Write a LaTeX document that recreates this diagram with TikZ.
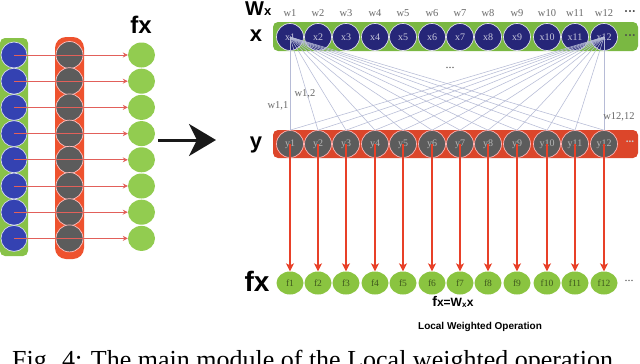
\documentclass[tikz,border=0pt]{standalone}
\usepackage{fontspec}
\setmainfont{Liberation Serif}
\setsansfont{Liberation Sans}
\usetikzlibrary{arrows.meta,shapes.geometric}
\definecolor{barG}{RGB}{122,184,66}
\definecolor{barGL}{RGB}{136,194,72}
\definecolor{cG}{RGB}{138,196,64}
\definecolor{cGL}{RGB}{146,204,80}
\definecolor{barR}{RGB}{220,70,42}
\definecolor{barRL}{RGB}{238,82,46}
\definecolor{cBlueL}{RGB}{52,66,178}
\definecolor{cBlue}{RGB}{38,38,120}
\definecolor{cGray}{RGB}{92,92,92}
\definecolor{lnRed}{RGB}{232,64,40}
\definecolor{lnRedL}{RGB}{226,96,90}
\definecolor{lnGray}{RGB}{182,187,214}
\definecolor{txtG}{RGB}{105,105,105}
\begin{document}
\begin{tikzpicture}[x=1pt,y=-1pt,
  bluedotL/.style={circle,inner sep=0pt,minimum size=26pt,fill=cBlueL,draw=white!80!cBlueL,line width=0.7pt},
  graydotL/.style={circle,inner sep=0pt,minimum size=27pt,fill=cGray,draw=white!75!red,line width=0.7pt},
  greendotL/.style={ellipse,inner sep=0pt,minimum width=27pt,minimum height=25pt,fill=cGL},
  xdot/.style={circle,inner sep=0pt,minimum size=27pt,fill=cBlue,draw=white!85!cBlue,line width=0.7pt,
    text=white!75!cBlue,font=\fontsize{10}{10}\selectfont},
  ydot/.style={circle,inner sep=0pt,minimum size=27pt,fill=cGray,draw=white!70!red,line width=0.7pt,
    text=white!55!cGray,font=\fontsize{10}{10}\selectfont},
  fdot/.style={ellipse,inner sep=0pt,minimum width=27pt,minimum height=23pt,fill=cG,
    text=black!55!cG,font=\fontsize{9.5}{9.5}\selectfont},
  wlab/.style={text=txtG,font=\fontsize{10.5}{10.5}\selectfont,inner sep=0pt},
  biglab/.style={font=\sffamily\bfseries,inner sep=0pt},
  fan/.style={draw=lnGray,line width=0.55pt},
  redarrL/.style={draw=lnRedL,line width=0.8pt,-{Stealth[length=5pt,width=5pt,fill=lnRed]}},
  redarr/.style={draw=lnRed,line width=1.1pt,-{Stealth[length=8pt,width=8pt,inset=2pt]}},
  bigarr/.style={draw=black!90,line width=3pt,-{Stealth[length=27pt,width=32pt,inset=8pt]}}
]
\useasboundingbox (0,0) rectangle (640,364);
\clip (0,0) rectangle (640,364);
\fill[white] (0,0) rectangle (640,364);

% ---------- left panel ----------
\fill[barGL,rounded corners=5pt] (0,38) rectangle (28,256);
\fill[barRL,rounded corners=11pt] (55,37) rectangle (84,259);
\foreach \i in {1,...,8}{
  \pgfmathsetmacro\yy{55+26.2*(\i-1)}
  \node[bluedotL] (b\i) at (14,\yy) {};
  \node[graydotL] (g\i) at (69.5,\yy) {};
  \node[greendotL] (h\i) at (141.5,\yy) {};
}
\foreach \i in {1,...,8}{
  \draw[redarrL] (b\i.center) -- (h\i.west);
}
\node[biglab,font=\sffamily\bfseries\fontsize{24}{24}\selectfont] (fxL) at (141,25) {fx};

\coordinate (aS) at (158,140);
\coordinate (aE) at (216,140);
\draw[bigarr] (aS) -- (aE);

% ---------- right panel ----------
\node[biglab,anchor=base west] (Wx) at (245,16) {\fontsize{20}{20}\selectfont W\fontsize{13}{13}\selectfont x};
\node[biglab,font=\sffamily\bfseries\fontsize{22}{22}\selectfont] (xlab) at (256,36) {x};
\node[biglab,font=\sffamily\bfseries\fontsize{22}{22}\selectfont] (ylab) at (256,145) {y};
\node[biglab,font=\sffamily\bfseries\fontsize{28}{28}\selectfont] (fxlab) at (257,281) {fx};

\fill[barG,rounded corners=5pt] (273,22) rectangle (638,51);
\fill[barR,rounded corners=5pt] (273,130) rectangle (638,158);

\foreach \xx [count=\i] in {290,318,346,375,403,432,460,488,517,547,575,604}{
  \node[wlab] (w\i) at (\xx,13) {w\i};
  \node[xdot] (x\i) at (\xx,37) {x\i};
  \node[ydot] (y\i) at (\xx,144) {y\i};
  \node[fdot] (f\i) at (\xx,283) {f\i};
}
\node[wlab,text=black!75,font=\bfseries\fontsize{12}{12}\selectfont] (wd) at (630,13) {···};
\node[wlab,text=black!70,font=\bfseries\fontsize{12}{12}\selectfont] (xd) at (630,37) {···};
\node[wlab,text=white!80!black,font=\bfseries\fontsize{11}{11}\selectfont] (yd) at (630,142) {...};
\node[wlab,text=black!70,font=\fontsize{12}{12}\selectfont] (fd) at (629,281) {...};
\node[wlab,text=black!70,font=\fontsize{12}{12}\selectfont] (md) at (450,68) {...};

\foreach \j in {1,...,12}{
  \draw[fan] (x1.center) -- (y\j.north);
  \draw[fan] (x12.center) -- (y\j.north);
}
\node[wlab] (w11l) at (278,106) {w1,1};
\node[wlab] (w12l) at (305,94) {w1,2};
\node[wlab] (w1212) at (619,117) {w12,12};

\foreach \i in {1,...,12}{
  \draw[redarr] (y\i.center) -- (f\i.north);
}

\node[biglab,font=\sffamily\bfseries\fontsize{12}{12}\selectfont] (eq) at (453,302)
  {{\fontsize{14}{14}\selectfont f}x=W\textsubscript{x}x};
\node[biglab,font=\sffamily\bfseries\fontsize{10}{10}\selectfont] (lwo) at (480,327) {Local Weighted Operation};

\node[anchor=base west,inner sep=0pt,font=\fontsize{26}{26}\selectfont] (cap) at (12,368)
  {Fig. 4: The main module of the Local weighted operation};
\end{tikzpicture}
\end{document}
